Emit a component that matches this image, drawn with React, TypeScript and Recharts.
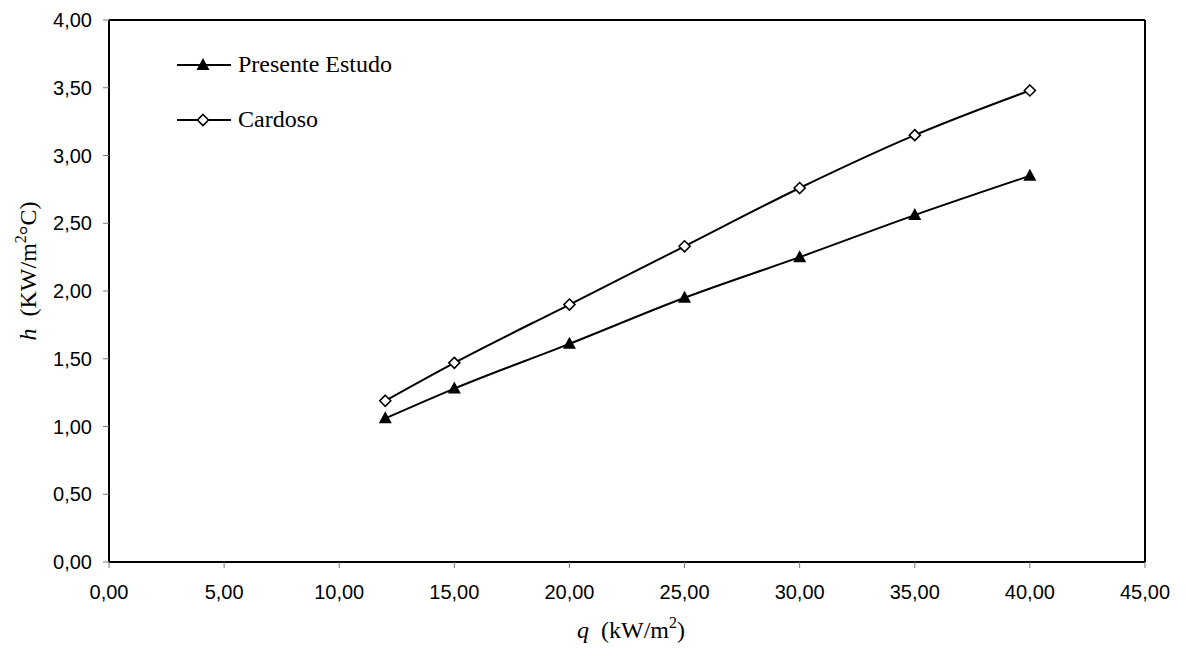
import React from 'react';
import { LineChart, Line, XAxis, YAxis, ReferenceLine, Label } from 'recharts';

const qValues = [12, 15, 20, 25, 30, 35, 40];
const presenteEstudo = [1.06, 1.28, 1.61, 1.95, 2.25, 2.56, 2.85];
const cardoso = [1.19, 1.47, 1.9, 2.33, 2.76, 3.15, 3.48];
const xTicks = [0, 5, 10, 15, 20, 25, 30, 35, 40, 45];
const yTicks = [0, 0.5, 1, 1.5, 2, 2.5, 3, 3.5, 4];

const data = qValues.map((q, i) => ({ q, presente: presenteEstudo[i], cardoso: cardoso[i] }));

const fmt = (v: number) => v.toFixed(2).replace('.', ',');
const serif = '"Liberation Serif", "Times New Roman", serif';
const sans = '"Liberation Sans", Arial, sans-serif';

const Triangle = ({ cx, cy }: { cx: number; cy: number }) => (
  <path d={`M${cx},${cy - 7} L${cx + 6.5},${cy + 5} L${cx - 6.5},${cy + 5} Z`} fill="#000" />
);

const Diamond = ({ cx, cy }: { cx: number; cy: number }) => (
  <path
    d={`M${cx},${cy - 5.5} L${cx + 5.5},${cy} L${cx},${cy + 5.5} L${cx - 5.5},${cy} Z`}
    fill="#fff"
    stroke="#000"
    strokeWidth={1.6}
  />
);

// legend drawn on top of the plot, like the original
function LegendBox() {
  return (
    <svg width={260} height={100} style={{ display: 'block' }}>
      <line x1={7} y1={25} x2={61} y2={25} stroke="#000" strokeWidth={2} />
      <Triangle cx={33} cy={25} />
      <text x={68} y={32} fontFamily={serif} fontSize={24} fill="#000">Presente Estudo</text>
      <line x1={7} y1={80} x2={61} y2={80} stroke="#000" strokeWidth={2} />
      <Diamond cx={33} cy={80} />
      <text x={68} y={87} fontFamily={serif} fontSize={24} fill="#000">Cardoso</text>
    </svg>
  );
}

export default function App() {
  return (
    <div style={{ position: 'absolute', left: 0, top: 0, width: 1185, height: 648, background: '#fff' }}>
      <LineChart width={1185} height={648} data={data} margin={{ top: 20, right: 40, bottom: 0, left: 0 }}>
        <XAxis
          dataKey="q"
          type="number"
          domain={[0, 45]}
          ticks={xTicks}
          tickFormatter={fmt}
          height={86}
          axisLine={{ stroke: '#000', strokeWidth: 2 }}
          tickLine={{ stroke: '#777' }}
          tickSize={6}
          tickMargin={17}
          tick={{ fill: '#000', fontSize: 20, fontFamily: sans }}
        >
          <Label
            content={() => (
              <text x={631} y={638} textAnchor="middle" fontFamily={serif} fontSize={24} fill="#000">
                <tspan fontStyle="italic">q</tspan>
                <tspan>{'\u00a0\u00a0(kW/m'}</tspan>
                <tspan fontSize={16} dy={-10}>2</tspan>
                <tspan dy={10}>)</tspan>
              </text>
            )}
          />
        </XAxis>
        <YAxis
          type="number"
          domain={[0, 4]}
          ticks={yTicks}
          tickFormatter={fmt}
          width={109}
          axisLine={{ stroke: '#000', strokeWidth: 2 }}
          tickLine={{ stroke: '#777' }}
          tickSize={6}
          tickMargin={11}
          tick={{ fill: '#000', fontSize: 20, fontFamily: sans }}
        >
          <Label
            content={() => (
              <text
                x={36}
                y={271}
                textAnchor="middle"
                transform="rotate(-90 36 271)"
                fontFamily={serif}
                fontSize={24}
                fill="#000"
              >
                <tspan fontStyle="italic">h</tspan>
                <tspan>{'\u00a0\u00a0(KW/m'}</tspan>
                <tspan fontSize={16} dy={-10}>2</tspan>
                <tspan dy={10}>{'°C)'}</tspan>
              </text>
            )}
          />
        </YAxis>
        <ReferenceLine y={4} stroke="#000" strokeWidth={2} />
        <ReferenceLine x={45} stroke="#000" strokeWidth={2} />
        <Line
          type="monotone"
          dataKey="presente"
          stroke="#000"
          strokeWidth={2}
          isAnimationActive={false}
          dot={(p: any) => <Triangle key={`t-${p.index}`} cx={p.cx} cy={p.cy} />}
        />
        <Line
          type="monotone"
          dataKey="cardoso"
          stroke="#000"
          strokeWidth={2}
          isAnimationActive={false}
          dot={(p: any) => <Diamond key={`d-${p.index}`} cx={p.cx} cy={p.cy} />}
        />
      </LineChart>
      <div style={{ position: 'absolute', left: 170, top: 40 }}>
        <LegendBox />
      </div>
    </div>
  );
}
